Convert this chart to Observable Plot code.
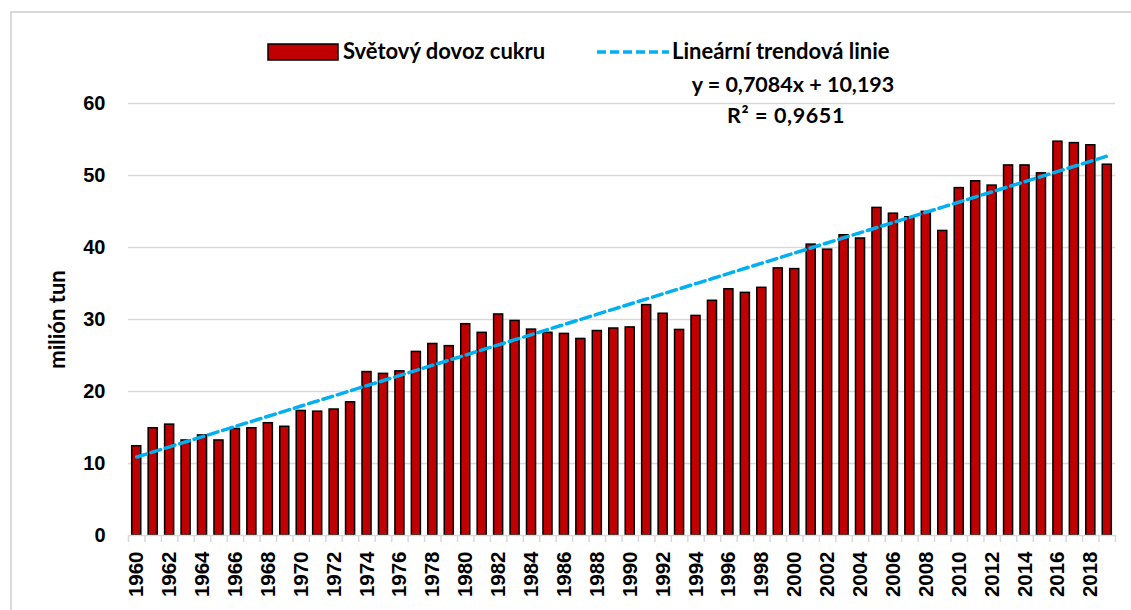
<!DOCTYPE html>
<html>
<head>
<meta charset="utf-8">
<script src="https://cdn.jsdelivr.net/npm/d3@7"></script>
<script src="https://cdn.jsdelivr.net/npm/@observablehq/plot@0.6"></script>
<style>
  html, body { margin: 0; padding: 0; background: #fff; }
  #page { position: relative; width: 1131px; height: 610px; overflow: hidden; background: #fff; }
  #frame { position: absolute; left: 10px; top: 11px; width: 1200px; height: 700px;
           border-top: 2px solid #d9d9d9; border-left: 2px solid #d9d9d9; }
  .cal { font-family: Lato, "Open Sans", sans-serif; font-weight: bold; color: #000; line-height: 1.2; }
  .lgtext { position: absolute; font-size: 22px; white-space: nowrap; top: 38px; }
  .sw { position: absolute; }
  .eq { position: absolute; width: 300px; text-align: center; font-size: 21.5px; white-space: nowrap; }
  #chart { position: absolute; left: 0; top: 70px; }
  #chart svg g[aria-label="y-axis label"] text { font-family: Lato, "Open Sans", sans-serif; font-weight: bold; }
</style>
</head>
<body>
<div id="page">
  <div id="frame"></div>
  <svg class="sw" style="left:267px;top:43px" width="72" height="18"><rect x="1" y="1" width="70" height="16" fill="#c00000" stroke="#000" stroke-width="1.5"/></svg>
  <div class="lgtext cal" id="lg1" style="left:343px"></div>
  <svg class="sw" style="left:597px;top:43px" width="72" height="18"><line x1="0" y1="9" x2="72" y2="9" stroke="#00b0f0" stroke-width="3.5" stroke-dasharray="9,4"/></svg>
  <div class="lgtext cal" id="lg2" style="left:672px"></div>
  <div class="eq cal" id="eq1" style="top:72px;left:643px"></div>
  <div class="eq cal" id="eq2" style="top:103px;left:636px;letter-spacing:0.6px"></div>
  <div id="chart"></div>
</div>
<script>
const years = [1960,1961,1962,1963,1964,1965,1966,1967,1968,1969,
               1970,1971,1972,1973,1974,1975,1976,1977,1978,1979,
               1980,1981,1982,1983,1984,1985,1986,1987,1988,1989,
               1990,1991,1992,1993,1994,1995,1996,1997,1998,1999,
               2000,2001,2002,2003,2004,2005,2006,2007,2008,2009,
               2010,2011,2012,2013,2014,2015,2016,2017,2018,2019];
const imports = [12.4, 14.9, 15.4, 13.2, 13.9, 13.2, 14.8, 14.9, 15.6, 15.1,
                 17.3, 17.2, 17.5, 18.5, 22.7, 22.45, 22.8, 25.5, 26.6, 26.3,
                 29.35, 28.15, 30.7, 29.8, 28.6, 28.15, 28.0, 27.3, 28.4, 28.75,
                 28.9, 32.0, 30.8, 28.55, 30.5, 32.6, 34.2, 33.7, 34.4, 37.1,
                 37.0, 40.4, 39.7, 41.7, 41.25, 45.5, 44.7, 44.2, 44.95, 42.3,
                 48.25, 49.2, 48.6, 51.4, 51.4, 50.3, 54.7, 54.5, 54.2, 51.5];
const yTicks = [0, 10, 20, 30, 40, 50, 60];
const xLabelYears = years.filter((y, i) => i % 2 === 0);
const trendSlope = 0.7084;
const trendIntercept = 10.193;
const seriesName = "Světový dovoz cukru";
const trendName = "Lineární trendová linie";
const eqText = "y = 0,7084x + 10,193";
const r2Text = "R² = 0,9651";
const yLabel = "milión tun";

const data = years.map((year, i) => ({
  year, value: imports[i], trend: trendSlope * (i + 1) + trendIntercept
}));

const W = 1131, H = 540, ML = 128, MR = 16, MT = 33, MB = 75;
const step = (W - ML - MR) / years.length;
const grid = "#d9d9d9";

const chart = Plot.plot({
  width: W, height: H,
  marginLeft: ML, marginRight: MR, marginTop: MT, marginBottom: MB,
  style: { fontFamily: "'Liberation Sans', Arial, sans-serif", color: "#000", background: "transparent", overflow: "visible" },
  x: { type: "band", domain: years, paddingInner: 0.45, paddingOuter: 0.225, round: false },
  y: { domain: [0, 60] },
  marks: [
    Plot.ruleY(yTicks.filter(t => t > 0), { stroke: grid, strokeWidth: 1.5 }),
    Plot.barY(data, { x: "year", y: "value", fill: "#c00000", stroke: "#000", strokeWidth: 1.5 }),
    Plot.line(data, { x: "year", y: "trend", stroke: "#00b0f0", strokeWidth: 3.5, strokeDasharray: "10,5" }),
    Plot.ruleY([0], { stroke: grid, strokeWidth: 1.5 }),
    Plot.axisY({ ticks: yTicks, tickSize: 0, tickPadding: 23, fontSize: 20, fontWeight: "bold",
                 label: yLabel, labelArrow: "none", labelAnchor: "center", labelOffset: 79 }),
    Plot.axisX(years, { tickSize: 7, text: null, dx: -step / 2, stroke: grid, strokeWidth: 1.5, label: null }),
    Plot.axisX([years[years.length - 1]], { tickSize: 7, text: null, dx: step / 2, stroke: grid, strokeWidth: 1.5, label: null }),
    Plot.axisX(xLabelYears, { tickSize: 0, tickPadding: 16, tickRotate: -90, tickFormat: d => String(d),
                              fontSize: 20.5, fontWeight: "bold", label: null })
  ]
});
document.getElementById("chart").appendChild(chart);

chart.querySelectorAll('g[aria-label="y-axis label"] text').forEach(t => {
  t.setAttribute("font-size", 22);
  t.textContent = yLabel;
});

document.getElementById("lg1").textContent = seriesName;
document.getElementById("lg2").textContent = trendName;
document.getElementById("eq1").textContent = eqText;
document.getElementById("eq2").textContent = r2Text;
</script>
</body>
</html>
